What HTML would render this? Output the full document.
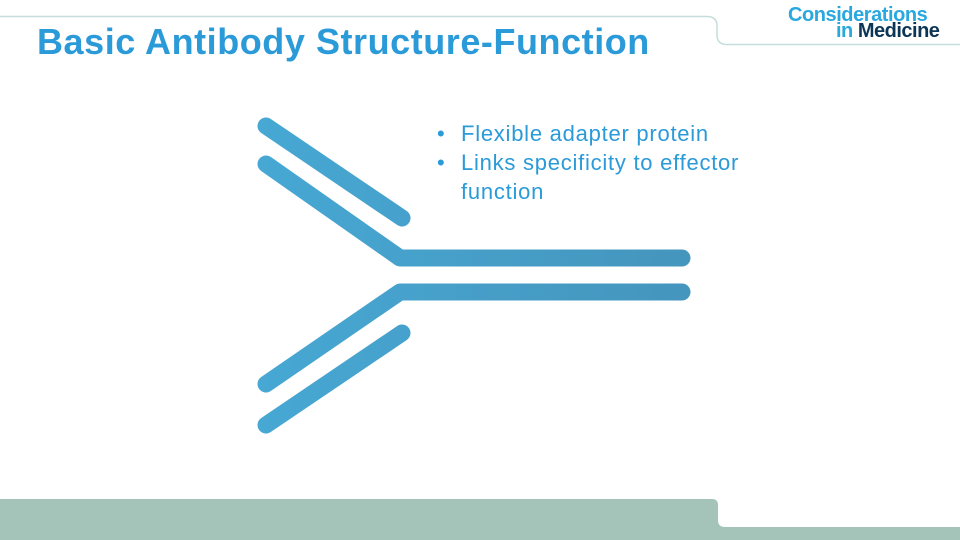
<!DOCTYPE html>
<html><head><meta charset="utf-8"><style>
html,body{margin:0;padding:0;background:#fff;}
body{width:960px;height:540px;position:relative;overflow:hidden;font-family:"Liberation Sans",sans-serif;}
.title{position:absolute;left:37px;top:21px;font-size:36px;font-weight:bold;color:#2a9ad8;letter-spacing:0.55px;}
.logo1{position:absolute;left:788px;top:4px;font-size:20px;font-weight:bold;color:#29a8e0;letter-spacing:-0.45px;}
.logo2{position:absolute;left:836px;top:20px;font-size:20px;font-weight:bold;color:#0d3556;letter-spacing:-0.5px;}
.logo2 span{color:#29a8e0}
ul{position:absolute;left:437px;top:119px;margin:0;padding:0;list-style:none;font-size:22px;color:#2a9ad8;line-height:29px;letter-spacing:0.75px;}
li{position:relative;padding-left:24px;}
li:before{content:"•";position:absolute;left:0;}
</style></head><body>
<svg width="960" height="540" style="position:absolute;left:0;top:0">
<defs><linearGradient id="g" gradientUnits="userSpaceOnUse" x1="260" y1="0" x2="690" y2="0"><stop offset="0" stop-color="#46a8d3"/><stop offset="1" stop-color="#4595bd"/></linearGradient></defs>
<path d="M0 16.5 H707 Q717 16.5 717 26 V35 Q717 44.5 727 44.5 H960" fill="none" stroke="#c6dedb" stroke-width="1.5"/>
<path d="M0 499 H712 Q718 499 718 505 V520 Q718 527 725 527 H960 V540 H0 Z" fill="#a4c4b9"/>
<g stroke="url(#g)" stroke-width="17" stroke-linecap="round" stroke-linejoin="round" fill="none">
<path d="M266 126 L402 218"/>
<path d="M266 164 L400 258 H682"/>
<path d="M682 292 H400 L266 384"/>
<path d="M266 425 L402 333"/>
</g>
</svg>
<div class="title">Basic Antibody Structure-Function</div>
<div class="logo1">Considerations</div>
<div class="logo2"><span>in</span> Medicine</div>
<ul><li>Flexible adapter protein</li><li>Links specificity to effector<br>function</li></ul>
</body></html>
